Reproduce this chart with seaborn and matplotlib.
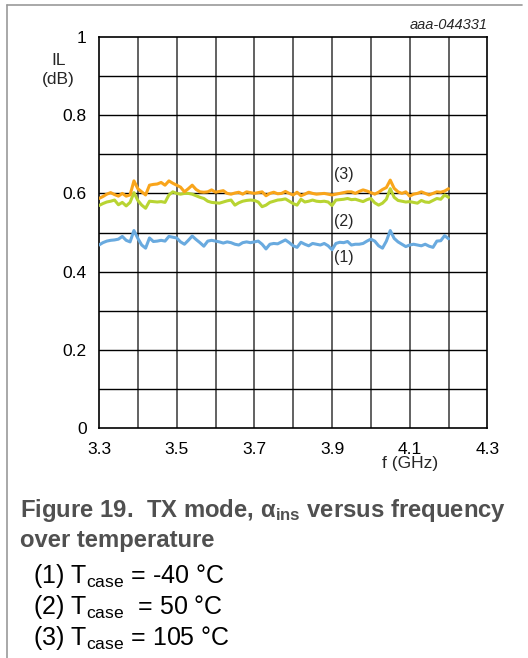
import numpy as np
import pandas as pd
import matplotlib
matplotlib.use("Agg")
import matplotlib.pyplot as plt
from matplotlib.lines import Line2D
import seaborn as sns

# frequency axis (GHz), 10 MHz steps
freq = np.round(np.arange(3.30, 4.2001, 0.01), 2)

# (1) Tcase = -40 C
il_m40 = [0.468, 0.474, 0.478, 0.480, 0.481, 0.483, 0.490, 0.480, 0.476, 0.505,
          0.485, 0.468, 0.460, 0.486, 0.477, 0.478, 0.480, 0.478, 0.490, 0.488,
          0.486, 0.476, 0.470, 0.480, 0.491, 0.482, 0.474, 0.465, 0.478, 0.480,
          0.478, 0.476, 0.473, 0.476, 0.474, 0.470, 0.468, 0.474, 0.476, 0.474,
          0.476, 0.478, 0.470, 0.458, 0.470, 0.472, 0.471, 0.476, 0.481, 0.474,
          0.466, 0.462, 0.475, 0.470, 0.466, 0.472, 0.470, 0.468, 0.472, 0.466,
          0.456, 0.472, 0.475, 0.474, 0.477, 0.468, 0.470, 0.470, 0.472, 0.478,
          0.483, 0.478, 0.466, 0.460, 0.478, 0.505, 0.485, 0.476, 0.470, 0.464,
          0.468, 0.470, 0.468, 0.466, 0.470, 0.465, 0.462, 0.478, 0.479, 0.492,
          0.484]

# (2) Tcase = 50 C
il_50 = [0.569, 0.574, 0.578, 0.580, 0.583, 0.571, 0.577, 0.568, 0.577, 0.602,
         0.582, 0.570, 0.562, 0.580, 0.579, 0.578, 0.579, 0.577, 0.596, 0.604,
         0.600, 0.598, 0.600, 0.600, 0.598, 0.594, 0.590, 0.587, 0.580, 0.577,
         0.576, 0.575, 0.578, 0.581, 0.583, 0.570, 0.576, 0.580, 0.582, 0.583,
         0.582, 0.578, 0.566, 0.570, 0.577, 0.580, 0.583, 0.584, 0.586, 0.580,
         0.574, 0.570, 0.585, 0.578, 0.580, 0.583, 0.580, 0.579, 0.580, 0.578,
         0.569, 0.583, 0.584, 0.585, 0.587, 0.584, 0.585, 0.582, 0.579, 0.584,
         0.587, 0.576, 0.570, 0.575, 0.585, 0.612, 0.590, 0.582, 0.580, 0.578,
         0.579, 0.577, 0.575, 0.582, 0.578, 0.577, 0.582, 0.587, 0.585, 0.596,
         0.590]

# (3) Tcase = 105 C
il_105 = [0.587, 0.592, 0.598, 0.602, 0.597, 0.593, 0.600, 0.593, 0.596, 0.632,
          0.612, 0.604, 0.596, 0.621, 0.623, 0.624, 0.628, 0.621, 0.632, 0.626,
          0.621, 0.616, 0.604, 0.612, 0.621, 0.610, 0.604, 0.603, 0.604, 0.609,
          0.603, 0.605, 0.607, 0.600, 0.598, 0.601, 0.603, 0.598, 0.604, 0.602,
          0.600, 0.602, 0.604, 0.594, 0.600, 0.603, 0.599, 0.600, 0.605, 0.600,
          0.596, 0.603, 0.594, 0.598, 0.603, 0.600, 0.598, 0.599, 0.600, 0.598,
          0.596, 0.598, 0.600, 0.602, 0.604, 0.604, 0.600, 0.605, 0.609, 0.606,
          0.602, 0.598, 0.603, 0.610, 0.615, 0.634, 0.613, 0.604, 0.600, 0.604,
          0.593, 0.598, 0.600, 0.604, 0.600, 0.596, 0.600, 0.604, 0.603, 0.606,
          0.612]

series_names = ["(1)", "(2)", "(3)"]
series_colors = ["#69aadf", "#b8d432", "#f9a51b"]
label_y = [0.435, 0.527, 0.649]

x_ticks = [3.3, 3.5, 3.7, 3.9, 4.1, 4.3]
y_ticks = [0, 0.2, 0.4, 0.6, 0.8, 1]
y_tick_labels = ["0", "0.2", "0.4", "0.6", "0.8", "1"]

df = pd.DataFrame({"f": np.tile(freq, 3),
                   "IL": il_m40 + il_50 + il_105,
                   "curve": np.repeat(series_names, len(freq))})

sns.set_style("white")
plt.rcParams["font.family"] = ["Liberation Sans", "DejaVu Sans"]
plt.rcParams["mathtext.fontset"] = "custom"
plt.rcParams["mathtext.rm"] = "Liberation Sans"
plt.rcParams["mathtext.bf"] = "Liberation Sans:bold"
plt.rcParams["mathtext.it"] = "Liberation Sans:italic"

fig = plt.figure(figsize=(5.28, 6.58), dpi=100)
ax = fig.add_axes([0.1875, 0.3495, 0.7355, 0.5943])

# grid
for xv in np.arange(3.4, 4.25, 0.1):
    ax.axvline(xv, color="#555555", lw=1.3, zorder=1)
for yv in np.arange(0.1, 0.95, 0.1):
    ax.axhline(yv, color="black", lw=1.0, zorder=1)

sns.lineplot(data=df, x="f", y="IL", hue="curve", hue_order=series_names,
             palette=series_colors, linewidth=2.2, legend=False, ax=ax,
             zorder=3)

ax.set_xlim(3.3, 4.3)
ax.set_ylim(0, 1)
ax.set_xticks(x_ticks)
ax.set_xticklabels([str(t) for t in x_ticks])
ax.set_yticks(y_ticks)
ax.set_yticklabels(y_tick_labels)
ax.tick_params(axis="both", length=0, labelsize=12.5, colors="black")
ax.tick_params(axis="x", pad=10)
ax.tick_params(axis="y", pad=9)
ax.set_xlabel("")
ax.set_ylabel("")
for sp in ax.spines.values():
    sp.set_color("black")
    sp.set_linewidth(1.2)

for name, yl in zip(series_names, label_y):
    ax.text(3.905, yl, name, fontsize=11.5, ha="left", va="center", zorder=4)

ax.text(4.1, -0.09, "f (GHz)", fontsize=12.5, ha="center", va="center")
ax.text(-0.105, 0.915, "IL\n(dB)", transform=ax.transAxes, fontsize=12.5,
        ha="center", va="center", linespacing=1.35)
ax.text(1.0, 1.012, "aaa-044331", transform=ax.transAxes, fontsize=10.5,
        style="italic", ha="right", va="bottom")

# caption
cap_color = "#505050"
fig.text(20 / 528, 1 - 510 / 658,
         r"Figure 19.  TX mode, $\mathbf{\alpha_{ins}}$ versus frequency",
         fontsize=17.2, fontweight="bold", color=cap_color, va="center")
fig.text(20 / 528, 1 - 540 / 658, "over temperature",
         fontsize=17.2, fontweight="bold", color=cap_color, va="center")
legend_lines = [r"(1) T$_\mathregular{case}$ = -40 °C",
                r"(2) T$_\mathregular{case}$  = 50 °C",
                r"(3) T$_\mathregular{case}$ = 105 °C"]
for i, line in enumerate(legend_lines):
    fig.text(33 / 528, 1 - (576 + 31 * i) / 658, line, fontsize=18,
             color="black", va="center")

# page frame
fig.add_artist(Line2D([7 / 528, 7 / 528], [0, 1 - 5 / 658],
                      transform=fig.transFigure, color="#999999", lw=1.2))
fig.add_artist(Line2D([7 / 528, 522 / 528], [1 - 5 / 658, 1 - 5 / 658],
                      transform=fig.transFigure, color="#999999", lw=1.2))

fig.savefig("out.png", dpi=100)
